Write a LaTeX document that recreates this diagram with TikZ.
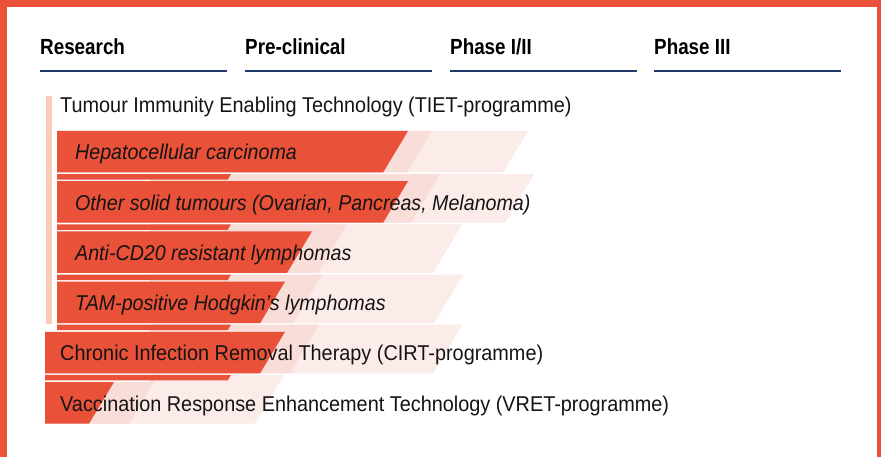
\documentclass[tikz,border=0pt]{standalone}
\usepackage{fontspec}
\setmainfont{Liberation Sans}
\newfontfamily\bodyfont[FakeStretch=0.928]{Liberation Sans}
\newfontfamily\italfont[FakeStretch=0.918]{Liberation Sans}
\newfontfamily\headfont[FakeStretch=0.86]{Liberation Sans}
\definecolor{tred}{RGB}{233,81,57}
\definecolor{pinkM}{RGB}{249,221,216}
\definecolor{pinkL}{RGB}{252,236,233}
\definecolor{barpink}{RGB}{251,203,186}
\definecolor{navy}{RGB}{31,57,107}
\definecolor{ink}{RGB}{20,20,20}
\tikzset{
  head/.style={anchor=base west, inner sep=0pt, text=black,
    font=\headfont\bfseries\fontsize{21.9}{24}\selectfont},
  prog/.style={anchor=base west, inner sep=0pt, text=ink,
    font=\bodyfont\fontsize{21.4}{24}\selectfont},
  indic/.style={anchor=base west, inner sep=0pt, text=ink,
    font=\italfont\itshape\fontsize{21.4}{24}\selectfont},
  rule/.style={draw=navy, line width=2pt},
}
\begin{document}
\begin{tikzpicture}[x=1pt, y=-1pt]
\useasboundingbox (0,0) rectangle (881,457);
\fill[white] (0,0) rectangle (881,457);

% frame
\fill[tred] (0,0) rectangle (881,7.3);
\fill[tred] (0,0) rectangle (7.3,457);
\fill[tred] (877,0) rectangle (881,457);

% column headings
\node[head] (hres) at (40,55) {Research};
\node[head] (hpre) at (245,55) {Pre-clinical};
\node[head] (hp12) at (450,55) {Phase I/II};
\node[head] (hp3)  at (654,55) {Phase III};
\foreach \hx in {40,245,450,654}
  \draw[rule] (\hx,70.8) -- (\hx+187,70.8);

% bracket for the TIET indications
\fill[barpink] (46,96) rectangle (52.3,324);

% row bands: top y / left x / red / mid pink / light pink / lead-in above
\foreach \yt/\xo/\R/\M/\L/\p in {
    131/57/408/432/528/0,
    181.2/57/408/436/530/7.1,
    231.4/57/312/343/458/7.1,
    281.6/57/285/318/459/7.1,
    331.8/45/285/315/458/7.1,
    382/45/114/154/280/7.1} {
  \fill[pinkL] (150,\yt-\p) -- ({\L+0.6*\p},\yt-\p) -- ({\L-0.6*41.5},\yt+41.5)
     -- (\xo,\yt+41.5) -- (\xo,\yt) -- (150,\yt) -- cycle;
  \fill[pinkM] (150,\yt-\p) -- ({\M+0.6*\p},\yt-\p) -- ({\M-0.6*41.5},\yt+41.5)
     -- (\xo,\yt+41.5) -- (\xo,\yt) -- (150,\yt) -- cycle;
  \fill[tred] (\xo,\yt) -- (\R,\yt) -- ({\R-0.6*41.5},\yt+41.5)
     -- (\xo,\yt+41.5) -- cycle;
}
% thin strips between rows
\foreach \yt/\xo in {131/57, 181.2/57, 231.4/57, 281.6/57, 331.8/45}
  \fill[tred] (\xo,\yt+43.1) -- (231,\yt+43.1) -- (227.7,\yt+48.6)
     -- (\xo,\yt+48.6) -- cycle;

% programme and indication labels
\node[prog]  (tiet) at (60,113) {Tumour Immunity Enabling Technology (TIET-programme)};
\node[indic] (hcc)  at (75,160) {Hepatocellular carcinoma};
\node[indic] (sol)  at (75,210.2) {Other solid tumours (Ovarian, Pancreas, Melanoma)};
\node[indic] (cd20) at (75,260.4) {Anti-CD20 resistant lymphomas};
\node[indic] (tam)  at (75,310.6) {TAM-positive Hodgkin’s lymphomas};
\node[prog]  (cirt) at (60,360.8) {Chronic Infection Removal Therapy (CIRT-programme)};
\node[prog]  (vret) at (60,411) {Vaccination Response Enhancement Technology (VRET-programme)};
\end{tikzpicture}
\end{document}
